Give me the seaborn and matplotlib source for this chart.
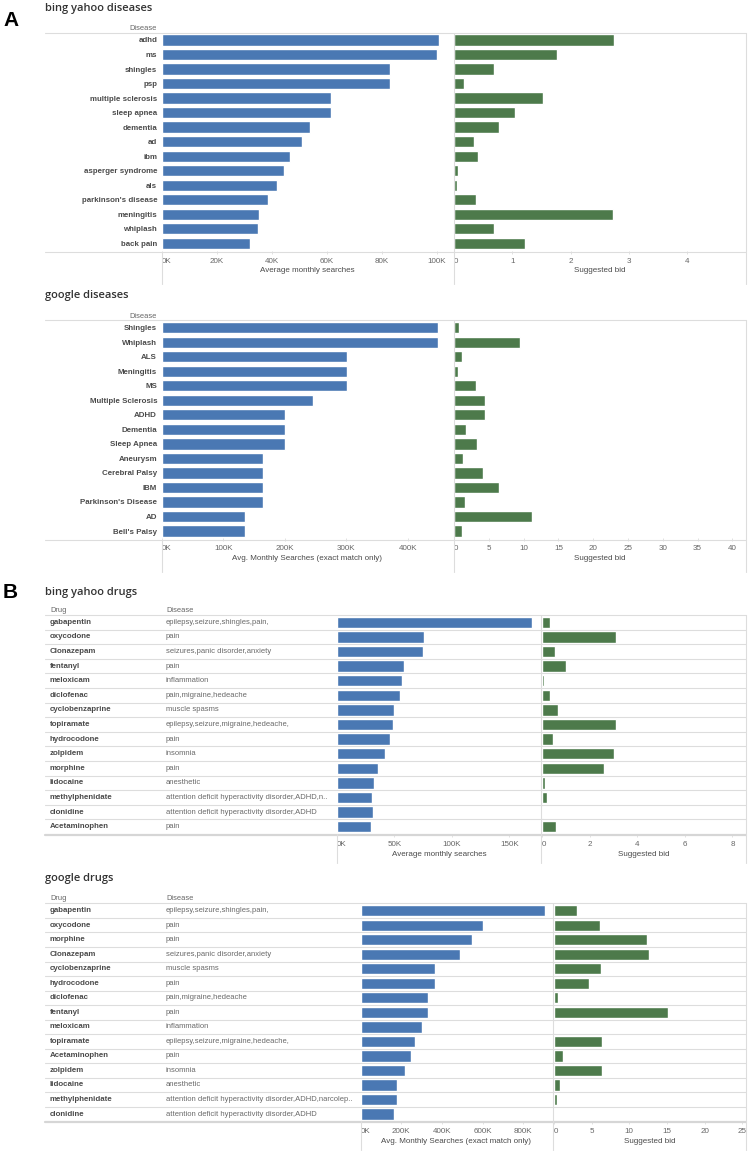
import numpy as np
import pandas as pd
import matplotlib
matplotlib.use("Agg")
import matplotlib.pyplot as plt
import matplotlib.transforms as mtransforms
from matplotlib.lines import Line2D
from matplotlib.ticker import FuncFormatter
import seaborn as sns

# ---- data ----
bing_diseases = ["adhd", "ms", "shingles", "psp", "multiple sclerosis", "sleep apnea", "dementia", "ad",
                 "ibm", "asperger syndrome", "als", "parkinson's disease", "meningitis", "whiplash", "back pain"]
bing_dis_searches = [101000, 100000, 83000, 83000, 61500, 61500, 54000, 51000,
                     46500, 44500, 42000, 38700, 35300, 34800, 32200]
bing_dis_bid = [2.75, 1.76, 0.69, 0.17, 1.53, 1.04, 0.77, 0.34, 0.41, 0.07, 0.05, 0.38, 2.72, 0.68, 1.22]

google_diseases = ["Shingles", "Whiplash", "ALS", "Meningitis", "MS", "Multiple Sclerosis", "ADHD", "Dementia",
                   "Sleep Apnea", "Aneurysm", "Cerebral Palsy", "IBM", "Parkinson's Disease", "AD", "Bell's Palsy"]
google_dis_searches = [450000, 450000, 301000, 301000, 301000, 246000, 201000, 201000,
                       201000, 165000, 165000, 165000, 165000, 135000, 135000]
google_dis_bid = [0.77, 9.5, 1.2, 0.57, 3.16, 4.5, 4.5, 1.72, 3.3, 1.3, 4.2, 6.4, 1.58, 11.2, 1.2]

bing_drugs = ["gabapentin", "oxycodone", "Clonazepam", "fentanyl", "meloxicam", "diclofenac", "cyclobenzaprine",
              "topiramate", "hydrocodone", "zolpidem", "morphine", "lidocaine", "methylphenidate", "clonidine",
              "Acetaminophen"]
bing_drug_disease = ["epilepsy,seizure,shingles,pain,", "pain", "seizures,panic disorder,anxiety", "pain",
                     "inflammation", "pain,migraine,hedeache", "muscle spasms", "epilepsy,seizure,migraine,hedeache,",
                     "pain", "insomnia", "pain", "anesthetic", "attention deficit hyperactivity disorder,ADHD,n..",
                     "attention deficit hyperactivity disorder,ADHD", "pain"]
bing_drug_searches = [170000, 76000, 74500, 58000, 56800, 54800, 49300, 48400,
                      46000, 41700, 35700, 32400, 30700, 31000, 29300]
bing_drug_bid = [0.35, 3.1, 0.53, 0.99, 0.08, 0.32, 0.69, 3.1, 0.45, 3.04, 2.59, 0.14, 0.23, 0.05, 0.57]

google_drugs = ["gabapentin", "oxycodone", "morphine", "Clonazepam", "cyclobenzaprine", "hydrocodone", "diclofenac",
                "fentanyl", "meloxicam", "topiramate", "Acetaminophen", "zolpidem", "lidocaine", "methylphenidate",
                "clonidine"]
google_drug_disease = ["epilepsy,seizure,shingles,pain,", "pain", "pain", "seizures,panic disorder,anxiety",
                       "muscle spasms", "pain", "pain,migraine,hedeache", "pain", "inflammation",
                       "epilepsy,seizure,migraine,hedeache,", "pain", "insomnia", "anesthetic",
                       "attention deficit hyperactivity disorder,ADHD,narcolep..",
                       "attention deficit hyperactivity disorder,ADHD"]
google_drug_searches = [905000, 600000, 550000, 490000, 368000, 368000, 330000, 330000,
                        301000, 270000, 246000, 220000, 181000, 181000, 165000]
google_drug_bid = [3.05, 6.15, 12.3, 12.6, 6.2, 4.6, 0.53, 15.2, 0.18, 6.4, 1.15, 6.4, 0.85, 0.45, 0.0]

# ---- style ----
W, H = 750, 1155
BLUE = "#4a78b3"
GREEN = "#4d7a4b"
LINE = "#dddddd"
TXT = "#4a4a4a"
TICK = "#666666"

sns.set_theme(style="white")
plt.rcParams["font.family"] = ["Liberation Sans", "DejaVu Sans"]

fig = plt.figure(figsize=(7.5, 11.55), dpi=100)


def px_axes(l, t, r, b):
    ax = fig.add_axes([l / W, 1 - b / H, (r - l) / W, (b - t) / H])
    ax.patch.set_visible(False)
    return ax


def hline(x0, x1, y, lw=0.8, color=LINE):
    fig.add_artist(Line2D([x0 / W, x1 / W], [1 - y / H, 1 - y / H], color=color, lw=lw,
                          transform=fig.transFigure))


def vline(x, y0, y1, lw=0.8, color=LINE):
    fig.add_artist(Line2D([x / W, x / W], [1 - y0 / H, 1 - y1 / H], color=color, lw=lw,
                          transform=fig.transFigure))


def ftext(x, y, s, **kw):
    fig.text(x / W, 1 - y / H, s, **kw)


k_fmt = FuncFormatter(lambda v, p: f"{v / 1000:.0f}K")
num_fmt = FuncFormatter(lambda v, p: f"{v:.0f}")
all_axes = []


def style_axis(ax, ticks, fmt, xmax, label, n):
    ax.set_xlim(0, xmax)
    ax.set_ylim(n - 0.5, -0.5)
    ax.set_xticks(ticks)
    ax.xaxis.set_major_formatter(fmt)
    ax.tick_params(axis="x", length=2.5, width=0.6, color=LINE, pad=2.5, labelsize=5.8, labelcolor=TICK,
                   bottom=True)
    ax.set_xlabel(label, fontsize=5.8, color=TXT, labelpad=2)
    for s in ax.spines.values():
        s.set_visible(False)
    ax.grid(False)
    all_axes.append(ax)


def bar_pair(labels, searches, bids, top, bottom, lx, split, gx, right,
             s_max, b_max, s_ticks, b_ticks, s_label):
    n = len(labels)
    df = pd.DataFrame({"label": labels, "searches": searches, "bid": bids})
    ax1 = px_axes(lx, top, split, bottom)
    sns.barplot(data=df, x="searches", y="label", color=BLUE, saturation=1, width=0.78, ax=ax1)
    style_axis(ax1, s_ticks, k_fmt, s_max, s_label, n)
    ax2 = px_axes(gx, top, right, bottom)
    sns.barplot(data=df, x="bid", y="label", color=GREEN, saturation=1, width=0.78, ax=ax2)
    style_axis(ax2, b_ticks, num_fmt, b_max, "Suggested bid", n)
    ax2.set_yticks([])
    ax2.set_ylabel("")
    ax1.set_ylabel("")
    return ax1, ax2


# ---- panel letters ----
ftext(3, 21, "A", fontsize=15, fontweight="bold", color="black", va="center", ha="left")
ftext(3, 592, "B", fontsize=15, fontweight="bold", color="black", va="center", ha="left")

# ---- disease panels ----
disease_panels = [
    ("bing yahoo diseases", bing_diseases, bing_dis_searches, bing_dis_bid, 8, 28, 32.7, 250.6, 252, 284,
     106000, 5.01, np.arange(0, 100001, 20000), np.arange(0, 5, 1), "Average monthly searches"),
    ("google diseases", google_diseases, google_dis_searches, google_dis_bid, 296, 316, 320.4, 538.3, 540, 572,
     474000, 41.95, np.arange(0, 400001, 100000), np.arange(0, 41, 5), "Avg. Monthly Searches (exact match only)"),
]
for (title, labels, searches, bids, ty, hy, top, bottom, bline, ybot,
     s_max, b_max, s_ticks, b_ticks, s_label) in disease_panels:
    ftext(45, ty, title, fontsize=8, color="#333333", fontfamily="Open Sans", fontweight="semibold",
          va="center")
    ftext(157, hy, "Disease", fontsize=5.4, color=TICK, ha="right", va="center")
    hline(45, 746, top)
    hline(45, 746, bline)
    vline(162, bline, ybot)
    vline(454, top, ybot)
    vline(746, top, ybot)
    ax1, ax2 = bar_pair(labels, searches, bids, top, bottom, 162, 453, 454, 746,
                        s_max, b_max, s_ticks, b_ticks, s_label)
    ax1.tick_params(axis="y", length=0, pad=3.5, labelsize=5.7, labelcolor=TXT)
    for t in ax1.get_yticklabels():
        t.set_fontweight("bold")

# ---- drug panels ----
drug_panels = [
    ("bing yahoo drugs", bing_drugs, bing_drug_disease, bing_drug_searches, bing_drug_bid, 592, 610,
     615.0, 834.0, 863, 337, 541, 542, 177400, 8.57, np.arange(0, 150001, 50000), np.arange(0, 9, 2),
     "Average monthly searches"),
    ("google drugs", google_drugs, google_drug_disease, google_drug_searches, google_drug_bid, 879, 898,
     903.4, 1121.3, 1150, 360.5, 552, 554, 941000, 25.5, np.arange(0, 800001, 200000), np.arange(0, 26, 5),
     "Avg. Monthly Searches (exact match only)"),
]
for (title, drugs, dis, searches, bids, ty, hy, top, bottom, ybot,
     lx, split, gx, s_max, b_max, s_ticks, b_ticks, s_label) in drug_panels:
    ftext(45, ty, title, fontsize=8, color="#333333", fontfamily="Open Sans", fontweight="semibold",
          va="center")
    ftext(50, hy, "Drug", fontsize=5.4, color=TICK, ha="left", va="center")
    ftext(166, hy, "Disease", fontsize=5.4, color=TICK, ha="left", va="center")
    hline(45, 746, top)
    hline(45, 746, bottom + 0.8, lw=1.6, color="#d6d6d6")
    vline(lx, bottom, ybot)
    vline(gx - 1, top, ybot)
    vline(746, top, ybot)
    ax1, ax2 = bar_pair(drugs, searches, bids, top, bottom, lx, split, gx, 746,
                        s_max, b_max, s_ticks, b_ticks, s_label)
    ax1.set_yticks([])
    # table columns and row separators across the whole panel width
    tr = mtransforms.blended_transform_factory(fig.transFigure, ax1.transData)
    n = len(drugs)
    for i in range(n):
        fig.text(50 / W, i, drugs[i], transform=tr, fontsize=5.7, fontweight="bold", color=TXT,
                 ha="left", va="center")
        fig.text(166 / W, i, dis[i], transform=tr, fontsize=5.5, color="#6a6a6a", ha="left", va="center")
        if i < n - 1:
            fig.add_artist(Line2D([45 / W, 746 / W], [i + 0.5, i + 0.5], transform=tr, color=LINE, lw=0.8))

# first tick label sits to the right of its tick, like Tableau
fig.canvas.draw()
for ax in all_axes:
    ax.xaxis.get_major_ticks()[0].label1.set_horizontalalignment("left")

fig.savefig("out.png", dpi=100)
